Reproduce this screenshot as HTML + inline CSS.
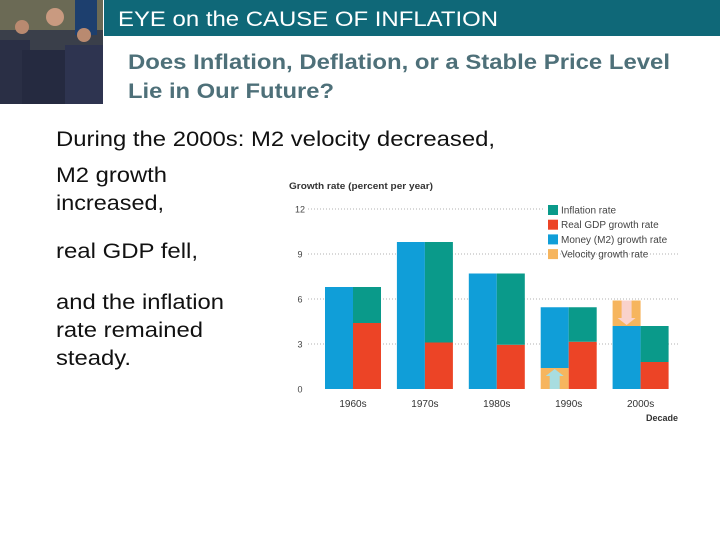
<!DOCTYPE html>
<html><head><meta charset="utf-8"><style>
html,body{margin:0;padding:0;background:#fff;width:720px;height:540px;overflow:hidden}
svg{display:block;font-family:"Liberation Sans",sans-serif}
</style></head><body>
<svg id="page" width="720" height="540" viewBox="0 0 720 540">
  <g>
    <rect x="0" y="0" width="103" height="104" fill="#3a3f4a"/>
    <rect x="0" y="0" width="103" height="30" fill="#6b6a55"/>
    <rect x="75" y="0" width="22" height="35" fill="#1d3f6e"/>
    <rect x="0" y="40" width="30" height="64" fill="#2a2f45"/>
    <rect x="22" y="50" width="45" height="54" fill="#252a40"/>
    <circle cx="55" cy="17" r="9" fill="#c99a80"/>
    <circle cx="22" cy="27" r="7" fill="#b98a70"/>
    <circle cx="84" cy="35" r="7" fill="#b98a70"/>
    <rect x="65" y="45" width="38" height="59" fill="#2e3450"/>
  </g>
  <rect x="104" y="0" width="616" height="36" fill="#0f6878"/>
  <text x="118" y="26" font-size="21" fill="#fff" textLength="380" lengthAdjust="spacingAndGlyphs">EYE on the CAUSE OF INFLATION</text>
  <text x="128" y="69" font-size="21" font-weight="bold" fill="#4e7079" textLength="542" lengthAdjust="spacingAndGlyphs">Does Inflation, Deflation, or a Stable Price Level</text>
  <text x="128" y="98" font-size="21" font-weight="bold" fill="#4e7079" textLength="206" lengthAdjust="spacingAndGlyphs">Lie in Our Future?</text>
  <g font-size="21" fill="#111" lengthAdjust="spacingAndGlyphs">
    <text x="56" y="146" textLength="439" lengthAdjust="spacingAndGlyphs">During the 2000s: M2 velocity decreased,</text>
    <text x="56" y="182" textLength="111" lengthAdjust="spacingAndGlyphs">M2 growth</text>
    <text x="56" y="210" textLength="108" lengthAdjust="spacingAndGlyphs">increased,</text>
    <text x="56" y="258" textLength="142" lengthAdjust="spacingAndGlyphs">real GDP fell,</text>
    <text x="56" y="309" textLength="168" lengthAdjust="spacingAndGlyphs">and the inflation</text>
    <text x="56" y="337" textLength="147" lengthAdjust="spacingAndGlyphs">rate remained</text>
    <text x="56" y="365" textLength="75" lengthAdjust="spacingAndGlyphs">steady.</text>
  </g>
  <g id="chart"></g>
</svg>
<script>
const decades = ["1960s","1970s","1980s","1990s","2000s"];
const moneyGrowth = [6.8, 9.8, 7.7, 5.45, 4.2];
const velocityGrowth = [0, 0, 0, 1.4, -1.7];
const realGdpGrowth = [4.4, 3.1, 2.95, 3.15, 1.8];
const inflationRate = [2.4, 6.7, 4.75, 2.3, 2.4];
const yTicks = [0, 3, 6, 9, 12];
const legendLabels = ["Inflation rate","Real GDP growth rate","Money (M2) growth rate","Velocity growth rate"];

const NS = "http://www.w3.org/2000/svg";
const chart = document.getElementById("chart");
const C = {infl:"#0a9a8a", gdp:"#ec4426", m2:"#109ed8", vel:"#f6b55e"};
const y = v => 389 - v * 15;
const x = i => 325 + i * 71.9;
const bw = 28;
function mk(tag, attrs, parent) {
  const e = document.createElementNS(NS, tag);
  for (const k in attrs) e.setAttribute(k, attrs[k]);
  (parent || chart).appendChild(e);
  return e;
}
let t = mk("text", {x: 289, y: 189, "font-size": 9, "font-weight": "bold", fill: "#333", textLength: 144, lengthAdjust: "spacingAndGlyphs"});
t.textContent = "Growth rate (percent per year)";


yTicks.forEach(v => {
  if (v > 0) {
    const l = mk("line", {x1: 308, x2: v === 12 ? 545 : 680, y1: y(v), y2: y(v), stroke: "#999", "stroke-width": 0.8, "stroke-dasharray": "1,2"});
    
    
  }
  const tl = mk("text", {x: 300, y: y(v) + 3.5, "font-size": 9, fill: "#444", "text-anchor": "middle"});
  tl.textContent = v;
  
  
});
decades.forEach((d, i) => {
  const x0 = x(i), x1 = x0 + bw;
  const m2 = moneyGrowth[i], vel = velocityGrowth[i];
  let r;
  if (vel > 0) {
    r = mk("rect", {x: x0, y: y(vel), width: bw, height: vel * 15, fill: C.vel});
    
    
    mk("path", {d: `M${x0+9} ${y(0)} V${y(vel)+8} H${x0+5} L${x0+14} ${y(vel)+1} L${x0+23} ${y(vel)+8} H${x0+19} V${y(0)} Z`, fill: "#a8dde0"});
    r = mk("rect", {x: x0, y: y(m2), width: bw, height: (m2 - vel) * 15, fill: C.m2});
  } else {
    r = mk("rect", {x: x0, y: y(m2), width: bw, height: m2 * 15, fill: C.m2});
  }
  
  
  if (vel < 0) {
    const top = m2 - vel;
    r = mk("rect", {x: x0, y: y(top), width: bw, height: -vel * 15, fill: C.vel});
    
    
    mk("path", {d: `M${x0+9} ${y(top)} V${y(m2)-8} H${x0+5} L${x0+14} ${y(m2)-1} L${x0+23} ${y(m2)-8} H${x0+19} V${y(top)} Z`, fill: "#f9d2cc"});
  }
  const g = realGdpGrowth[i], inf = inflationRate[i];
  r = mk("rect", {x: x1, y: y(g), width: bw, height: g * 15, fill: C.gdp});
  
  
  r = mk("rect", {x: x1, y: y(g + inf), width: bw, height: inf * 15, fill: C.infl});
  
  
  const lab = mk("text", {x: x1, y: 407, "font-size": 10, fill: "#333", "text-anchor": "middle"});
  lab.textContent = d;
  
  
});
const dec = mk("text", {x: 678, y: 421, "font-size": 9, "font-weight": "bold", fill: "#333", "text-anchor": "end"});
dec.textContent = "Decade";


const legColors = [C.infl, C.gdp, C.m2, C.vel];
legendLabels.forEach((lbl, i) => {
  const yy = 205 + i * 14.7;
  const sw = mk("rect", {x: 548, y: yy, width: 10, height: 10, fill: legColors[i]});
  
  
  const lt = mk("text", {x: 561, y: yy + 8.5, "font-size": 10, fill: "#444"});
  lt.textContent = lbl;
  
  
});
</script>
</body></html>
